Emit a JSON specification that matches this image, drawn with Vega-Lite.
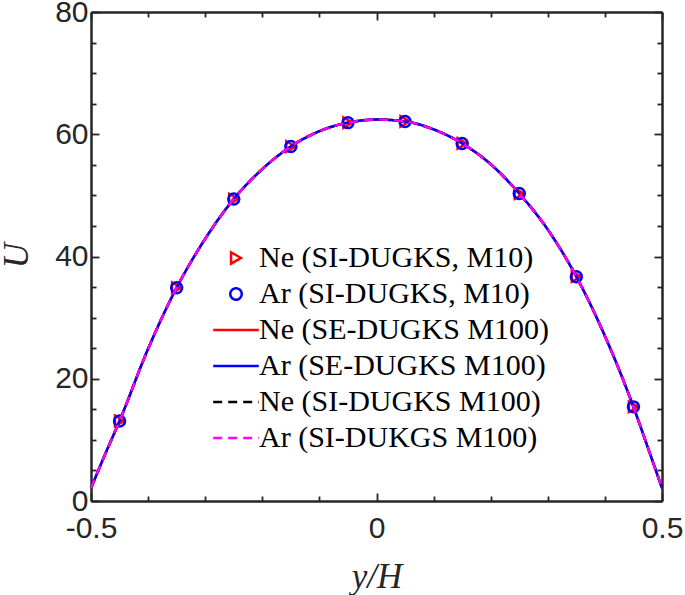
{
  "$schema": "https://vega.github.io/schema/vega-lite/v6.json",
  "width": 571,
  "height": 489,
  "autosize": {"type": "none"},
  "padding": {"left": 91, "top": 12, "right": 23, "bottom": 94},
  "background": "white",
  "config": {
    "view": {"stroke": null},
    "axis": {
      "grid": false,
      "domainColor": "#262626",
      "domainWidth": 2.5,
      "tickColor": "#262626",
      "tickWidth": 1.8,
      "labelFont": "Liberation Sans",
      "labelFontSize": 30,
      "labelColor": "#262626",
      "labelOverlap": false,
      "labelFlush": false,
      "labelBound": false,
      "titleFont": "Liberation Serif",
      "titleFontStyle": "italic",
      "titleFontWeight": "normal",
      "titleFontSize": 35,
      "titleColor": "#262626"
    },
    "legend": {
      "labelFont": "Liberation Serif",
      "labelFontSize": 30,
      "labelColor": "#000000",
      "labelLimit": 0,
      "symbolSize": 130,
      "symbolStrokeWidth": 2.5,
      "symbolOpacity": 1,
      "padding": 0,
      "rowPadding": 6,
      "labelOffset": 8,
      "symbolLimit": 0
    }
  },
  "datasets": {
    "markers": [
      {"yH": -0.45, "U": 13.1},
      {"yH": -0.35, "U": 34.9},
      {"yH": -0.25, "U": 49.4},
      {"yH": -0.15, "U": 58.0},
      {"yH": -0.05, "U": 61.9},
      {"yH": 0.05, "U": 62.1},
      {"yH": 0.15, "U": 58.5},
      {"yH": 0.25, "U": 50.3},
      {"yH": 0.35, "U": 36.7},
      {"yH": 0.45, "U": 15.4}
    ],
    "curve": [
      {"yH": -0.5, "U": 2.1},
      {"yH": -0.475, "U": 7.7},
      {"yH": -0.45, "U": 13.1},
      {"yH": -0.4, "U": 24.9},
      {"yH": -0.35, "U": 34.9},
      {"yH": -0.3, "U": 42.9},
      {"yH": -0.25, "U": 49.4},
      {"yH": -0.2, "U": 54.3},
      {"yH": -0.15, "U": 58.0},
      {"yH": -0.1, "U": 60.5},
      {"yH": -0.05, "U": 61.9},
      {"yH": 0, "U": 62.4},
      {"yH": 0.05, "U": 62.1},
      {"yH": 0.1, "U": 60.8},
      {"yH": 0.15, "U": 58.5},
      {"yH": 0.2, "U": 55.1},
      {"yH": 0.25, "U": 50.3},
      {"yH": 0.3, "U": 44.4},
      {"yH": 0.35, "U": 36.7},
      {"yH": 0.4, "U": 27.0},
      {"yH": 0.45, "U": 15.4},
      {"yH": 0.475, "U": 8.8},
      {"yH": 0.5, "U": 2.1}
    ]
  },
  "resolve": {"axis": {"x": "independent", "y": "independent"}},
  "layer": [
    {
      "data": {"name": "markers"},
      "mark": {"type": "point", "filled": false, "strokeWidth": 2.5, "size": 110, "opacity": 1},
      "encoding": {
        "x": {
          "field": "yH", "type": "quantitative",
          "scale": {"domain": [-0.5, 0.5], "nice": false, "zero": false},
          "axis": {
            "orient": "bottom",
            "values": [-0.5, -0.4, -0.3, -0.2, -0.1, 0, 0.1, 0.2, 0.3, 0.4, 0.5],
            "labelExpr": "datum.value == -0.5 ? '-0.5' : datum.value == 0 ? '0' : datum.value == 0.5 ? '0.5' : ''",
            "tickSize": {"condition": {"test": "datum.value == -0.5 || datum.value == 0 || datum.value == 0.5", "value": -8}, "value": -5},
            "labelPadding": 20,
            "title": "y/H",
            "titleX": 285.5,
            "titleY": 75,
            "titleBaseline": "middle",
            "titleAnchor": "middle"
          }
        },
        "y": {
          "field": "U", "type": "quantitative",
          "scale": {"domain": [0, 80], "nice": false, "zero": false},
          "axis": {
            "orient": "left",
            "values": [0, 5, 10, 15, 20, 25, 30, 35, 40, 45, 50, 55, 60, 65, 70, 75, 80],
            "labelExpr": "datum.value % 20 == 0 ? format(datum.value, 'd') : ''",
            "tickSize": {"condition": {"test": "datum.value % 20 == 0", "value": -8}, "value": -5},
            "labelPadding": 11,
            "title": "U",
            "titleAngle": -90,
            "titleX": -75,
            "titleY": 243,
            "titleBaseline": "middle",
            "titleAlign": "center"
          }
        },
        "color": {
          "datum": "Ne (SI-DUGKS, M10)",
          "scale": {
            "domain": ["Ne (SI-DUGKS, M10)", "Ar (SI-DUGKS, M10)", "Ne (SE-DUGKS M100)", "Ar (SE-DUGKS M100)", "Ne (SI-DUGKS M100)", "Ar (SI-DUKGS M100)"],
            "range": ["#ff0000", "#0000ff", "#ff0000", "#0000ff", "#000000", "#ff00ff"]
          },
          "legend": {
            "title": null,
            "orient": "none",
            "legendX": 130,
            "legendY": 231,
            "encode": {
              "symbols": {
                "update": {
                  "fill": {"value": "transparent"},
                  "opacity": {"value": 1},
                  "strokeWidth": {"value": 2.5}
                }
              }
            }
          }
        },
        "shape": {
          "datum": "Ne (SI-DUGKS, M10)",
          "scale": {
            "domain": ["Ne (SI-DUGKS, M10)", "Ar (SI-DUGKS, M10)", "Ne (SE-DUGKS M100)", "Ar (SE-DUGKS M100)", "Ne (SI-DUGKS M100)", "Ar (SI-DUKGS M100)"],
            "range": ["triangle-right", "circle", "M-4,0H4", "M-4,0H4", "M-4,0H4", "M-4,0H4"]
          },
          "legend": {
            "title": null,
            "orient": "none",
            "legendX": 130,
            "legendY": 231,
            "encode": {
              "symbols": {
                "update": {
                  "fill": {"value": "transparent"},
                  "opacity": {"value": 1},
                  "strokeWidth": {"value": 2.5}
                }
              }
            }
          }
        }
      }
    },
    {
      "data": {"name": "markers"},
      "mark": {"type": "point", "filled": false, "strokeWidth": 2.5, "size": 120, "opacity": 1},
      "encoding": {
        "x": {
          "field": "yH", "type": "quantitative",
          "scale": {"domain": [-0.5, 0.5], "nice": false, "zero": false},
          "axis": {
            "orient": "top",
            "values": [-0.5, -0.4, -0.3, -0.2, -0.1, 0, 0.1, 0.2, 0.3, 0.4, 0.5],
            "labels": false,
            "tickSize": {"condition": {"test": "datum.value == -0.5 || datum.value == 0 || datum.value == 0.5", "value": -8}, "value": -5},
            "title": null
          }
        },
        "y": {
          "field": "U", "type": "quantitative",
          "scale": {"domain": [0, 80], "nice": false, "zero": false},
          "axis": {
            "orient": "right",
            "values": [0, 5, 10, 15, 20, 25, 30, 35, 40, 45, 50, 55, 60, 65, 70, 75, 80],
            "labels": false,
            "tickSize": {"condition": {"test": "datum.value % 20 == 0", "value": -8}, "value": -5},
            "title": null
          }
        },
        "color": {"datum": "Ar (SI-DUGKS, M10)"},
        "shape": {"datum": "Ar (SI-DUGKS, M10)"}
      }
    },
    {
      "data": {"name": "curve"},
      "mark": {"type": "line", "strokeWidth": 2.5, "interpolate": "monotone"},
      "encoding": {
        "x": {"field": "yH", "type": "quantitative", "axis": null},
        "y": {"field": "U", "type": "quantitative", "axis": null},
        "color": {"datum": "Ne (SE-DUGKS M100)"},
        "strokeDash": {
          "datum": "Ne (SE-DUGKS M100)",
          "scale": {
            "domain": ["Ne (SI-DUGKS, M10)", "Ar (SI-DUGKS, M10)", "Ne (SE-DUGKS M100)", "Ar (SE-DUGKS M100)", "Ne (SI-DUGKS M100)", "Ar (SI-DUKGS M100)"],
            "range": [[1, 0], [1, 0], [1, 0], [1, 0], [9, 6], [9, 6]]
          },
          "legend": {
            "title": null,
            "orient": "none",
            "legendX": 130,
            "legendY": 231,
            "encode": {
              "symbols": {
                "update": {
                  "fill": {"value": "transparent"},
                  "opacity": {"value": 1},
                  "strokeWidth": {"value": 2.5}
                }
              }
            }
          }
        }
      }
    },
    {
      "data": {"name": "curve"},
      "mark": {"type": "line", "strokeWidth": 2.5, "interpolate": "monotone"},
      "encoding": {
        "x": {"field": "yH", "type": "quantitative", "axis": null},
        "y": {"field": "U", "type": "quantitative", "axis": null},
        "color": {"datum": "Ar (SE-DUGKS M100)"},
        "strokeDash": {"datum": "Ar (SE-DUGKS M100)"}
      }
    },
    {
      "data": {"name": "curve"},
      "mark": {"type": "line", "strokeWidth": 2.5, "interpolate": "monotone"},
      "encoding": {
        "x": {"field": "yH", "type": "quantitative", "axis": null},
        "y": {"field": "U", "type": "quantitative", "axis": null},
        "color": {"datum": "Ne (SI-DUGKS M100)"},
        "strokeDash": {"datum": "Ne (SI-DUGKS M100)"}
      }
    },
    {
      "data": {"name": "curve"},
      "mark": {"type": "line", "strokeWidth": 2.5, "interpolate": "monotone"},
      "encoding": {
        "x": {"field": "yH", "type": "quantitative", "axis": null},
        "y": {"field": "U", "type": "quantitative", "axis": null},
        "color": {"datum": "Ar (SI-DUKGS M100)"},
        "strokeDash": {"datum": "Ar (SI-DUKGS M100)"}
      }
    }
  ]
}
